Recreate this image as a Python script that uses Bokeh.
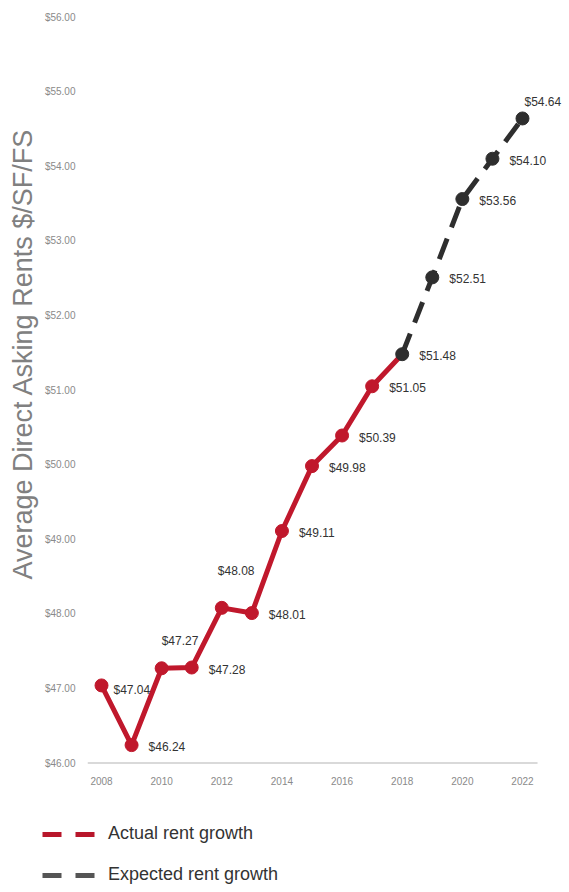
from bokeh.plotting import figure
from bokeh.models import PrintfTickFormatter, Legend, LegendItem, Title, ColumnDataSource
from bokeh.layouts import column
from bokeh.embed import file_html
from bokeh.resources import INLINE
from bokeh.core.properties import value

# ---- data ----
years_actual = [2008, 2009, 2010, 2011, 2012, 2013, 2014, 2015, 2016, 2017, 2018]
rent_actual = [47.04, 46.24, 47.27, 47.28, 48.08, 48.01, 49.11, 49.98, 50.39, 51.05, 51.48]
years_expected = [2018, 2019, 2020, 2021, 2022]
rent_expected = [51.48, 52.51, 53.56, 54.10, 54.64]
x_ticks = [2008, 2010, 2012, 2014, 2016, 2018, 2020, 2022]
y_ticks = [46, 47, 48, 49, 50, 51, 52, 53, 54, 55, 56]
series_names = ["Actual rent growth", "Expected rent growth"]
y_title = "Average  Direct Asking Rents $/SF/FS"

RED = "#c0182c"
DARK = "#2e2e2e"
FONT = "Liberation Sans"

px_per_year = 30.07
px_per_dollar = 74.6
FRAME_W, FRAME_H = 476, 754
x_start = 2007.534
x_axis_end = 2022.5
x_end = x_start + FRAME_W / px_per_year
y_start = 45.98
y_end = y_start + FRAME_H / px_per_dollar

p = figure(frame_width=FRAME_W, frame_height=FRAME_H,
           x_range=(x_start, x_end), y_range=(y_start, y_end),
           output_backend="svg", toolbar_location=None,
           min_border_left=87, min_border_right=2,
           min_border_top=10, min_border_bottom=30)
p.frame_align = False
p.outline_line_color = None
p.xgrid.visible = False
p.ygrid.visible = False

# x axis (line drawn as a glyph so the frame can hold the labels on the right)
p.xaxis.ticker = x_ticks
p.xaxis.axis_line_color = None
p.xaxis.major_tick_line_color = None
p.xaxis.minor_tick_line_color = None
p.xaxis.major_tick_out = 0
p.xaxis.major_label_text_color = "#8a8a8a"
p.xaxis.major_label_text_font = FONT
p.xaxis.major_label_text_font_size = "10px"
p.xaxis.major_label_standoff = 12
p.line([x_start, x_axis_end], [y_ticks[0], y_ticks[0]], line_color="#d9d9d9", line_width=2)

# y axis
p.yaxis.ticker = y_ticks
p.yaxis.formatter = PrintfTickFormatter(format="$%.2f")
p.yaxis.axis_line_color = None
p.yaxis.major_tick_line_color = None
p.yaxis.minor_tick_line_color = None
p.yaxis.major_tick_out = 0
p.yaxis.major_label_text_color = "#8a8a8a"
p.yaxis.major_label_text_font = FONT
p.yaxis.major_label_text_font_size = "10px"
p.yaxis.major_label_standoff = 12

# y title
p.add_layout(Title(text=y_title, align="left", offset=185, standoff=7,
                   text_font=FONT, text_font_size="27px", text_font_style="normal",
                   text_color="#808080"), "left")

# lines and markers
p.line(years_actual, rent_actual, line_color=RED, line_width=5, line_join="round")
p.line(years_expected, rent_expected, line_color=DARK, line_width=5, line_dash="22 12")
p.scatter(years_actual[:-1], rent_actual[:-1], size=13, color=RED)
p.scatter(years_expected, rent_expected, size=13, color=DARK)

# data labels
label_years = years_actual + years_expected[1:]
label_vals = rent_actual + rent_expected[1:]
special = {2008: (12, 5), 2010: (0, -27), 2012: (-4, -37), 2022: (2, -16)}
dx = [special.get(yv, (17, 2))[0] for yv in label_years]
dy = [special.get(yv, (17, 2))[1] for yv in label_years]
src = ColumnDataSource(dict(x=label_years, y=label_vals,
                            t=["$%.2f" % v for v in label_vals], dx=dx, dy=dy))
p.text(x="x", y="y", text="t", source=src, x_offset="dx", y_offset="dy",
       text_font=value(FONT), text_font_size="12px", text_color="#333333",
       text_align="left", text_baseline="middle")

# legend in its own strip below the chart
lg = figure(width=565, height=96, output_backend="svg", toolbar_location=None,
            x_range=(0, 1), y_range=(0, 1),
            x_axis_type=None, y_axis_type=None,
            min_border_left=0, min_border_right=0, min_border_top=0, min_border_bottom=0)
lg.frame_align = False
lg.outline_line_color = None
lg.xgrid.visible = False
lg.ygrid.visible = False
# sample lines sit outside the strip's ranges; only their legend glyphs show
r1 = lg.line([-2, -1], [-2, -1], line_color="#b8162b", line_width=5, line_dash="19 14")
r2 = lg.line([-2, -1], [-2, -1], line_color="#555555", line_width=5, line_dash="19 14")
legend = Legend(items=[LegendItem(label=series_names[0], renderers=[r1]),
                       LegendItem(label=series_names[1], renderers=[r2])],
                location=(42, 5), orientation="vertical",
                glyph_width=55, glyph_height=20, label_height=20,
                label_standoff=11, spacing=20, padding=0, margin=0,
                border_line_color=None, background_fill_alpha=0,
                label_text_font=FONT, label_text_font_size="18px",
                label_text_color="#333333")
lg.add_layout(legend)

open("out.html", "w").write(file_html(column(p, lg, spacing=0), INLINE))
